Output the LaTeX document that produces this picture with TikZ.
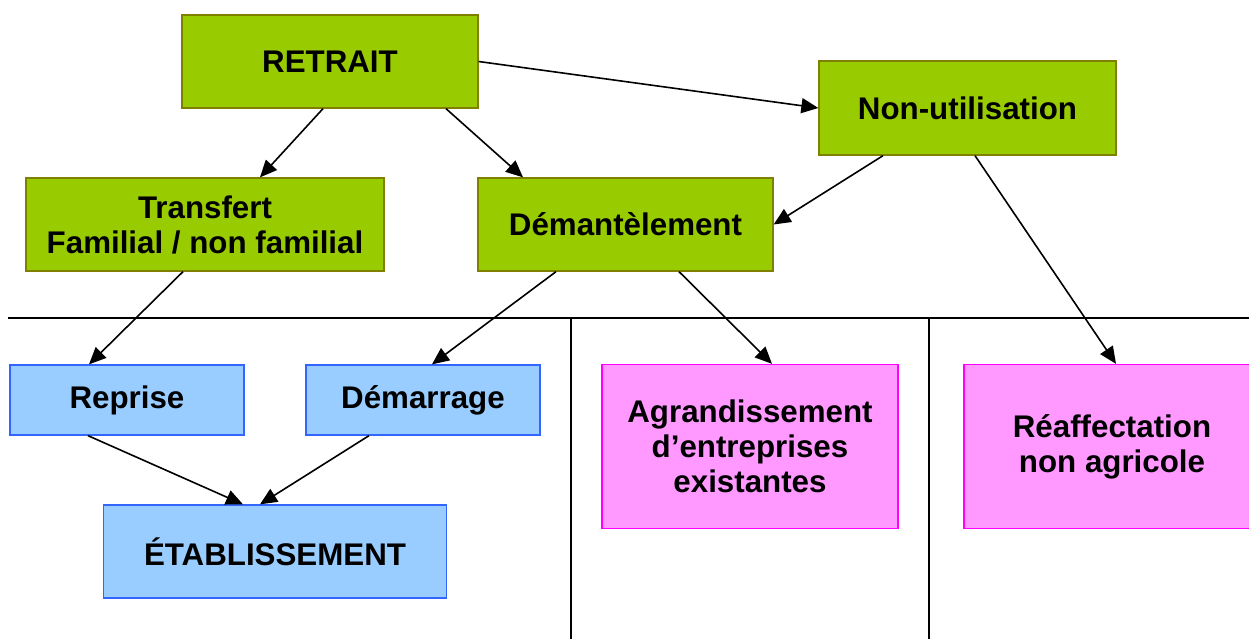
\documentclass[tikz,border=0pt]{standalone}
\usepackage{fontspec}
\setmainfont{Liberation Sans}
\usepackage{tikz}
\usetikzlibrary{arrows.meta,positioning}

\definecolor{greenfill}{HTML}{99CC00}
\definecolor{greendraw}{HTML}{808000}
\definecolor{bluefill}{HTML}{99CCFF}
\definecolor{bluedraw}{HTML}{3366FF}
\definecolor{pinkfill}{HTML}{FF99FF}
\definecolor{pinkdraw}{HTML}{FF00FF}

\tikzset{
  box/.style={rectangle,inner sep=0pt,align=center,line width=1.3pt,
    font=\fontsize{31.3}{35}\selectfont\bfseries},
  greenbox/.style={box,fill=greenfill,draw=greendraw},
  bluebox/.style={box,fill=bluefill,draw=bluedraw},
  pinkbox/.style={box,fill=pinkfill,draw=pinkdraw},
  link/.style={-{Triangle[length=17pt,width=15pt]}},
}

\begin{document}
\begin{tikzpicture}[x=1pt,y=-1pt,line width=1.6pt]
  \useasboundingbox (0,0) rectangle (1249,639);
  \draw (8,318) -- (1249,318);
  \draw (571,318) -- (571,639);
  \draw (929,318) -- (929,639);

  \node[greenbox,minimum width=296pt,minimum height=93pt] (retrait) at (330,61.5) {RETRAIT};
  \node[greenbox,minimum width=297pt,minimum height=94pt] (nonutil) at (967.5,108) {Non-utilisation};
  \node[greenbox,minimum width=358pt,minimum height=93pt] (transfert) at (205,224.5) {Transfert\\Familial / non familial};
  \node[greenbox,minimum width=295pt,minimum height=93pt] (demant) at (625.5,224.5) {Démantèlement};
  \node[bluebox,minimum width=234pt,minimum height=70pt] (reprise) at (127,400) {Reprise};
  \node[bluebox,minimum width=234pt,minimum height=70pt] (demarrage) at (423,400) {Démarrage};
  \node[bluebox,minimum width=343pt,minimum height=93pt] (etab) at (275,551.5) {ÉTABLISSEMENT};
  \node[pinkbox,minimum width=296pt,minimum height=164pt] (agrand) at (750,446.5) {Agrandissement\\d’entreprises\\existantes};
  \node[pinkbox,minimum width=296pt,minimum height=164pt] (reaff) at (1112,446.5) {Réaffectation\\non agricole};

\path[link] ([xshift=-7pt]retrait.south) edge ([xshift=55pt]transfert.north)
      ([xshift=116pt]retrait.south) edge ([xshift=-102.5pt]demant.north)
      (retrait.east) edge (nonutil.west)
      ([xshift=-84.5pt]nonutil.south) edge (demant.east)
      ([xshift=7.5pt]nonutil.south) edge ([xshift=4pt]reaff.north)
      ([xshift=-22pt]transfert.south) edge ([xshift=-38pt]reprise.north)
      ([xshift=-69.5pt]demant.south) edge ([xshift=9pt]demarrage.north)
      ([xshift=53.5pt]demant.south) edge ([xshift=22pt]agrand.north)
      ([xshift=-39pt]reprise.south) edge ([xshift=-32pt]etab.north)
      ([xshift=-54pt]demarrage.south) edge ([xshift=-15pt]etab.north);
\end{tikzpicture}
\end{document}
